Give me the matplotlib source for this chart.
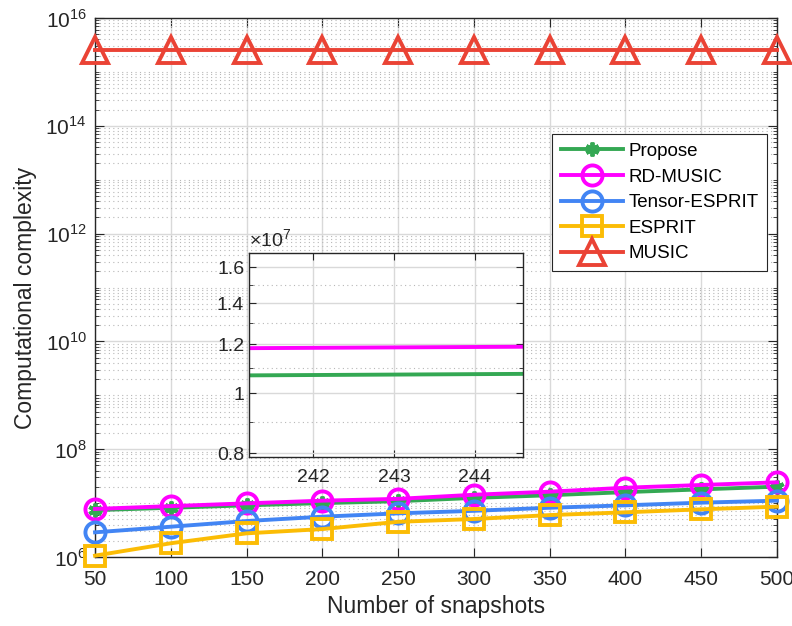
import numpy as np
import matplotlib
matplotlib.use('Agg')
import matplotlib.pyplot as plt
from matplotlib.ticker import FixedLocator, NullFormatter, FixedFormatter

plt.rcParams['font.family'] = ['Liberation Sans', 'DejaVu Sans']
plt.rcParams['mathtext.fontset'] = 'custom'
plt.rcParams['mathtext.rm'] = 'Liberation Sans'

snapshots = [50, 100, 150, 200, 250, 300, 350, 400, 450, 500]
propose = [7.4e6, 8.2e6, 9.1e6, 1.0e7, 1.085e7, 1.25e7, 1.4e7, 1.6e7, 1.8e7, 2.02e7]
rd_music = [7.8e6, 8.8e6, 9.9e6, 1.11e7, 1.2e7, 1.43e7, 1.63e7, 1.93e7, 2.17e7, 2.43e7]
tensor_esprit = [2.87e6, 3.65e6, 4.65e6, 5.6e6, 6.46e6, 7.2e6, 8.2e6, 9.1e6, 1.02e7, 1.11e7]
esprit = [1.06e6, 1.8e6, 2.75e6, 3.3e6, 4.5e6, 5.07e6, 6.0e6, 6.75e6, 7.67e6, 8.6e6]
music = [2.6e15] * 10

labels = ['Propose', 'RD-MUSIC', 'Tensor-ESPRIT', 'ESPRIT', 'MUSIC']
colors = ['#34A853', '#FF00FF', '#4285F4', '#FBBC05', '#EA4335']
markers = [(6, 2, 0), 'o', 'o', 's', '^']
msizes = [10, 14.5, 14.5, 14, 19]
series = [propose, rd_music, tensor_esprit, esprit, music]

axcol = '#262626'
gridcol = '#d9d9d9'

fig = plt.figure(figsize=(7.92, 6.26), dpi=100)
ax = fig.add_axes([0.12, 0.1102, 0.861, 0.861])

for y, c, m, ms, lab in zip(series, colors, markers, msizes, labels):
    ax.plot(snapshots, y, color=c, lw=2.8, marker=m, ms=ms, mew=2.8,
            mfc='none', label=lab, clip_on=False, zorder=3)

ax.set_yscale('log')
ax.set_xlim(50, 500)
ax.set_ylim(1e6, 1e16)
ax.set_xticks(snapshots)
ax.yaxis.set_major_locator(FixedLocator([10.0 ** k for k in range(6, 17, 2)]))
ax.yaxis.set_major_formatter(FixedFormatter([r'$10^{%d}$' % k for k in range(6, 17, 2)]))
minor = [s * 10.0 ** k for k in range(6, 16) for s in range(1, 10) if not (s == 1 and k % 2 == 0)]
ax.yaxis.set_minor_locator(FixedLocator(minor))
ax.yaxis.set_minor_formatter(NullFormatter())
ax.grid(True, which='major', color=gridcol, lw=1.0)
ax.grid(True, which='minor', axis='y', color='#b8b8b8', lw=0.8, ls=(0, (1, 3)))
ax.set_axisbelow(True)
ax.tick_params(which='both', direction='in', top=True, right=True, colors=axcol,
               labelsize=15)
ax.tick_params(axis='x', which='major', pad=9)
ax.tick_params(axis='y', which='major', pad=6)
ax.tick_params(which='major', length=6.5)
ax.tick_params(which='minor', length=3)
for s in ax.spines.values():
    s.set_color(axcol)
    s.set_linewidth(1.0)
ax.set_xlabel('Number of snapshots', fontsize=16.5, color=axcol, labelpad=5)
ax.set_ylabel('Computational complexity', fontsize=16.5, color=axcol)
ax.yaxis.set_label_coords(-0.085, 0.48)

leg = ax.legend(loc='upper right', bbox_to_anchor=(0.985, 0.784), borderaxespad=0,
                fontsize=13.5, handlelength=3.3, handletextpad=0.3,
                labelspacing=0.45, fancybox=False, framealpha=1,
                edgecolor=axcol, borderpad=0.45)
leg.get_frame().set_linewidth(0.8)

# inset zoom
ins = fig.add_axes([0.3144, 0.2705, 0.346, 0.326])
for y, c in zip(series, colors):
    ins.plot(snapshots, y, color=c, lw=2.8)
ins.set_yscale('log')
ins.set_xlim(241.2, 244.6)
ins.set_ylim(0.79e7, 1.69e7)
ins.set_xticks([242, 243, 244])
ins_ticks = [0.8e7, 1.0e7, 1.2e7, 1.4e7, 1.6e7]
ins.yaxis.set_major_locator(FixedLocator(ins_ticks))
ins.yaxis.set_major_formatter(FixedFormatter(['0.8', '1', '1.2', '1.4', '1.6']))
ins.yaxis.set_minor_locator(FixedLocator([0.9e7, 1.1e7, 1.3e7, 1.5e7]))
ins.yaxis.set_minor_formatter(NullFormatter())
ins.grid(True, which='major', color=gridcol, lw=1.0)
ins.grid(True, which='minor', axis='y', color='#b8b8b8', lw=0.8, ls=(0, (1, 3)))
ins.set_axisbelow(True)
ins.tick_params(which='both', direction='in', top=True, right=True, colors=axcol,
                labelsize=14)
ins.tick_params(axis='x', which='major', pad=9)
ins.tick_params(which='major', length=5)
ins.tick_params(which='minor', length=3)
for s in ins.spines.values():
    s.set_color(axcol)
    s.set_linewidth(1.0)
ins.text(0.0, 1.005, r'$\times 10^{7}$', transform=ins.transAxes, fontsize=14,
         color=axcol, ha='left', va='bottom')

fig.savefig('out.png', dpi=100)
